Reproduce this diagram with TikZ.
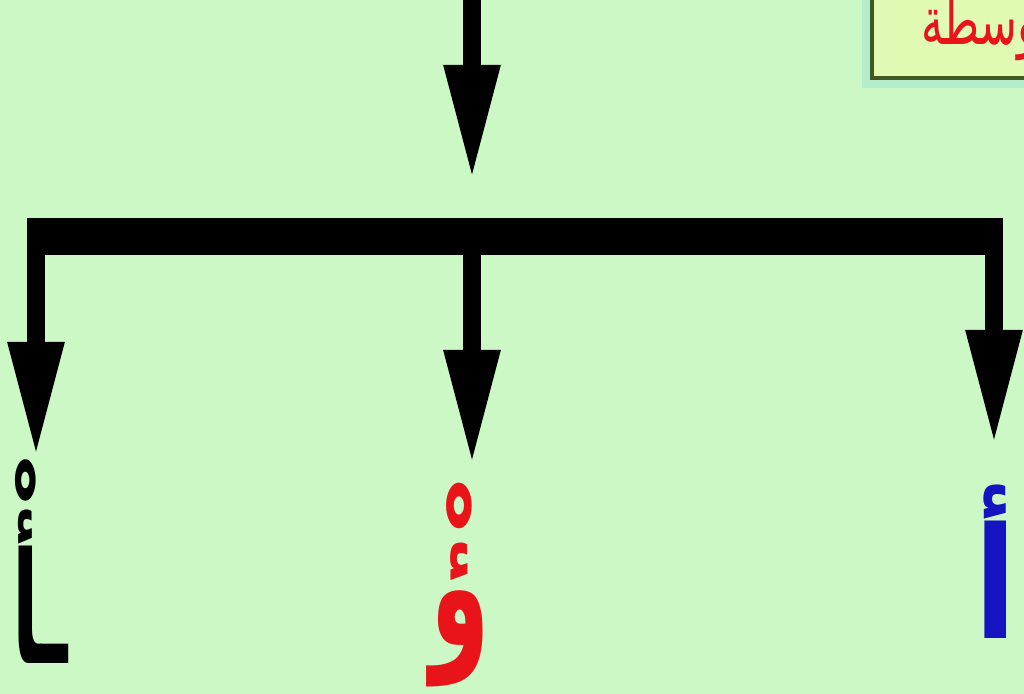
\documentclass[tikz,border=0pt]{standalone}
\usepackage{fontspec}
\usetikzlibrary{arrows.meta, positioning}
\newfontfamily\arabicfont[Script=Arabic]{DejaVu Sans}
\TeXXeTstate=1
\definecolor{meadow}{HTML}{CCF8C6}
\definecolor{lemon}{HTML}{E0FAB4}
\definecolor{boxrim}{HTML}{3E5A22}
\definecolor{haze}{HTML}{B4ECCC}
\definecolor{hamred}{HTML}{E8141A}
\definecolor{hamblue}{HTML}{1414C0}

\begin{document}
\begin{tikzpicture}[
  dn/.style={line width=5.1pt, -{Triangle[length=11.5mm, width=5.2mm]}},
  lbl/.style={font=\arabicfont\bfseries\fontsize{44}{44}\selectfont, inner sep=0pt}]
  % --- page ---
  \fill[meadow] (0,0) rectangle (10.24,-6.94);
  \useasboundingbox (0,0) rectangle (10.24,-6.94);
  \clip (0,0) rectangle (10.24,-6.94);
  % --- corner tag ---
  \fill[haze] (8.62,-0.88) rectangle (10.9,0.5);
  \node[draw=boxrim, fill=lemon, line width=1pt, minimum width=2.3cm, minimum height=1.3cm,
        anchor=south west] (tag) at (8.70,-0.80) {};
  \node[font=\arabicfont\fontsize{19}{19}\selectfont, text=hamred, anchor=west, xscale=0.66] (tagtxt)
        at (9.13,-0.27) {\beginR متوسطة\endR};
  % --- bar and arrows ---
  \node[fill=black, inner sep=0pt, minimum width=9.76cm, minimum height=0.37cm] (bar) at (5.15,-2.365) {};
  \coordinate (src) at (4.72,0.10);
  \coordinate (tipT) at (4.72,-1.80);
  \coordinate (tipL) at (0.36,-4.57);
  \coordinate (tipM) at (4.72,-4.65);
  \coordinate (tipR) at (9.94,-4.45);
  \draw[dn] (src) -- (tipT);
  \foreach \t in {tipL, tipM, tipR}{\draw[dn] (bar.center -| \t) -- (\t);}
  % --- letters ---
  \node[lbl, text=black, xscale=0.5] (hamL) at (0.40,-5.62) {\beginR ـأْ\endR};
  \node[lbl, text=hamred, xscale=0.62, yscale=1.1] (hamM) at (4.60,-5.85) {\beginR ؤْ\endR};
  \node[lbl, text=hamblue, xscale=0.8] (hamR) at (9.96,-5.62) {\beginR أ\endR};
\end{tikzpicture}
\end{document}
